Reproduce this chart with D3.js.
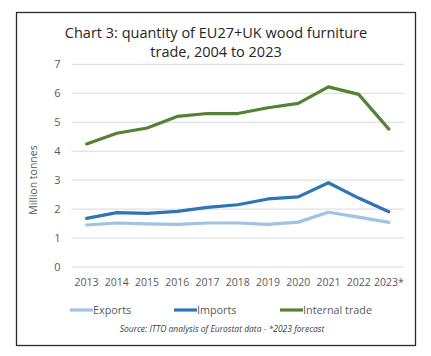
<!DOCTYPE html>
<html><head><meta charset="utf-8">
<script src="https://cdn.jsdelivr.net/npm/d3@7"></script>
<style>body{margin:0;background:#fff;}svg{display:block;}</style>
</head><body>
<svg id="chart" width="431" height="356"></svg>
<script>
const categories = ["2013","2014","2015","2016","2017","2018","2019","2020","2021","2022","2023*"];
const exportsData = [1.45,1.52,1.49,1.47,1.52,1.52,1.47,1.55,1.89,1.72,1.54];
const importsData = [1.68,1.88,1.85,1.92,2.06,2.15,2.35,2.42,2.91,2.38,1.91];
const internalData = [4.25,4.62,4.80,5.20,5.30,5.30,5.50,5.65,6.22,5.96,4.76];
const yTicks = [0,1,2,3,4,5,6,7];
const seriesNames = ["Exports","Imports","Internal trade"];
const seriesColors = ["#9dc3e6","#2e75b6","#548235"];
const titleLines = ["Chart 3: quantity of EU27+UK wood furniture","trade, 2004 to 2023"];

const series = [exportsData, importsData, internalData].map((v,i)=>({name:seriesNames[i], color:seriesColors[i], values:v}));

const svg = d3.select("#chart");
const font = "'Open Sans', sans-serif";

svg.append("rect").attr("x",16.5).attr("y",12.5).attr("width",399).attr("height",333)
  .attr("fill","#fff").attr("stroke","#2b2b2b").attr("stroke-width",1.3);

const plot = {left:71.5, right:404, top:64.3, bottom:267};
const x = d3.scaleBand().domain(categories).range([plot.left, plot.right]);
const y = d3.scaleLinear().domain([0,7]).range([plot.bottom, plot.top]);

// title
svg.append("g").selectAll("text").data(titleLines).join("text")
  .attr("x",216).attr("y",(d,i)=>38+i*19).attr("text-anchor","middle")
  .attr("font-family",font).attr("font-size",14.5).attr("fill","#262626").text(d=>d);

// gridlines
svg.append("g").selectAll("line").data(yTicks).join("line")
  .attr("x1",plot.left).attr("x2",plot.right)
  .attr("y1",d=>y(d)).attr("y2",d=>y(d))
  .attr("stroke","#d9d9d9").attr("stroke-width",1);

// y axis
const yAxis = svg.append("g").attr("transform",`translate(${plot.left-8},0)`)
  .call(d3.axisLeft(y).tickValues(yTicks).tickSize(0).tickFormat(d3.format("d")));
yAxis.select(".domain").remove();
yAxis.selectAll("text").attr("font-family",font).attr("font-size",11).attr("fill","#595959");

// x axis
const xAxis = svg.append("g").attr("transform",`translate(0,${plot.bottom+9})`)
  .call(d3.axisBottom(x).tickSize(0));
xAxis.select(".domain").remove();
xAxis.selectAll("text").attr("font-family",font).attr("font-size",10.5).attr("fill","#595959");

// y title
svg.append("text").attr("transform","translate(37,180) rotate(-90)")
  .attr("text-anchor","middle").attr("font-family",font).attr("font-size",10.5)
  .attr("fill","#595959").text("Million tonnes");

// lines
const line = d3.line().x((d,i)=>x(categories[i])+x.bandwidth()/2).y(d=>y(d));
svg.append("g").selectAll("path").data(series).join("path")
  .attr("d",d=>line(d.values)).attr("fill","none")
  .attr("stroke",d=>d.color).attr("stroke-width",3.2)
  .attr("stroke-linejoin","round").attr("stroke-linecap","round");

// legend
const legendX = [70,174,280];
const lg = svg.append("g").selectAll("g").data(series).join("g")
  .attr("transform",(d,i)=>`translate(${legendX[i]},310)`);
lg.append("line").attr("x1",0).attr("x2",23).attr("y1",0).attr("y2",0)
  .attr("stroke",d=>d.color).attr("stroke-width",3.2);
lg.append("text").attr("x",23).attr("y",4).attr("font-family",font).attr("font-size",10.8)
  .attr("fill","#595959").text(d=>d.name);

// source
svg.append("text").attr("x",222).attr("y",332).attr("text-anchor","middle")
  .attr("font-family",font).attr("font-size",8.5).attr("font-style","italic")
  .attr("fill","#404040").text("Source: ITTO analysis of Eurostat data - *2023 forecast");
</script>
</body></html>
